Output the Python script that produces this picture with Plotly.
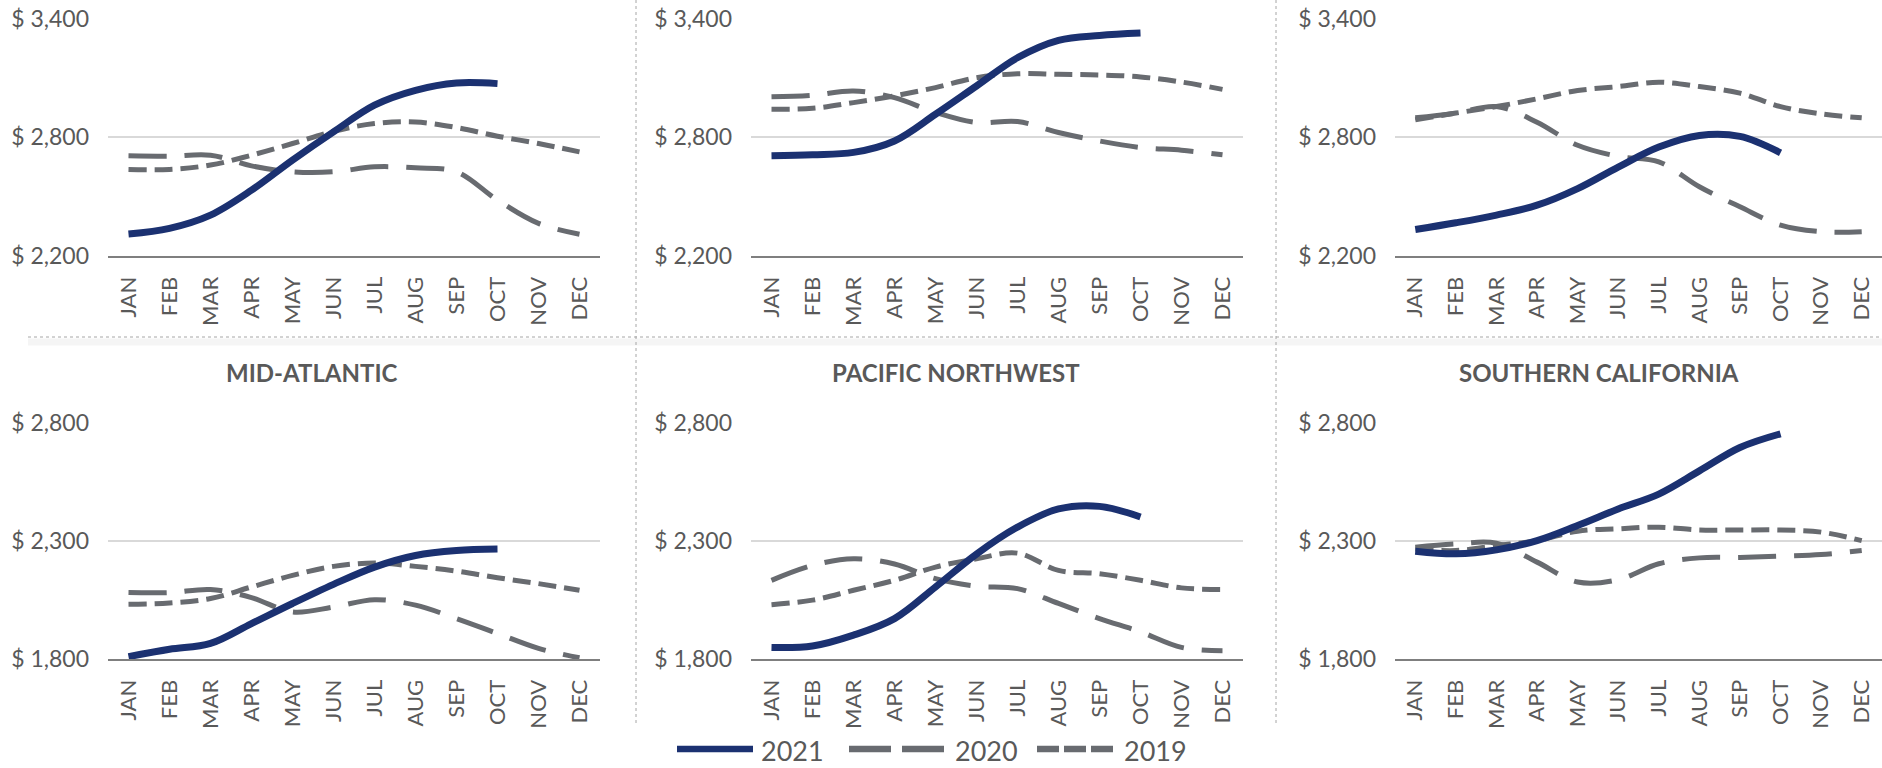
import plotly.graph_objects as go
from plotly.subplots import make_subplots

# month labels
months = ["JAN", "FEB", "MAR", "APR", "MAY", "JUN", "JUL", "AUG", "SEP", "OCT", "NOV", "DEC"]
years = ["2021", "2020", "2019"]

# top row (panel titles are cropped off in the source)
top_left_2021 = [2311, 2340, 2407, 2533, 2685, 2828, 2963, 3038, 3075, 3072]
top_left_2020 = [2707, 2705, 2710, 2656, 2626, 2626, 2651, 2646, 2626, 2483, 2365, 2310]
top_left_2019 = [2638, 2638, 2660, 2710, 2769, 2831, 2870, 2878, 2850, 2806, 2769, 2727]

top_mid_2021 = [2707, 2712, 2724, 2782, 2917, 3060, 3203, 3291, 3316, 3328]
top_mid_2020 = [3005, 3013, 3035, 3001, 2926, 2875, 2880, 2825, 2782, 2749, 2735, 2712]
top_mid_2019 = [2942, 2947, 2976, 3010, 3052, 3102, 3122, 3119, 3116, 3106, 3080, 3043]

top_right_2021 = [2334, 2368, 2407, 2457, 2541, 2650, 2751, 2810, 2805, 2722]
top_right_2020 = [2899, 2923, 2956, 2877, 2760, 2704, 2676, 2550, 2449, 2356, 2323, 2323]
top_right_2019 = [2889, 2923, 2956, 2995, 3037, 3057, 3079, 3057, 3024, 2956, 2919, 2899]

# bottom row
mid_atlantic_2021 = [1810, 1841, 1866, 1950, 2035, 2116, 2189, 2238, 2259, 2265]
mid_atlantic_2020 = [2081, 2081, 2094, 2060, 1999, 2020, 2051, 2028, 1971, 1908, 1845, 1805]
mid_atlantic_2019 = [2032, 2037, 2056, 2105, 2154, 2192, 2206, 2192, 2172, 2144, 2119, 2091]

pac_nw_2021 = [1849, 1855, 1901, 1971, 2105, 2244, 2358, 2435, 2446, 2401]
pac_nw_2020 = [2133, 2196, 2224, 2202, 2140, 2108, 2098, 2035, 1971, 1915, 1849, 1835]
pac_nw_2019 = [2030, 2049, 2091, 2133, 2189, 2224, 2248, 2175, 2161, 2133, 2101, 2094]

so_cal_2021 = [2256, 2245, 2262, 2301, 2365, 2435, 2498, 2596, 2695, 2753]
so_cal_2020 = [2273, 2287, 2290, 2210, 2126, 2136, 2203, 2228, 2230, 2235, 2242, 2259]
so_cal_2019 = [2266, 2259, 2280, 2301, 2341, 2351, 2358, 2346, 2346, 2346, 2337, 2301]

panel_titles = ["", "", "", "MID-ATLANTIC", "PACIFIC NORTHWEST", "SOUTHERN CALIFORNIA"]

panels = [
    (top_left_2021, top_left_2020, top_left_2019),
    (top_mid_2021, top_mid_2020, top_mid_2019),
    (top_right_2021, top_right_2020, top_right_2019),
    (mid_atlantic_2021, mid_atlantic_2020, mid_atlantic_2019),
    (pac_nw_2021, pac_nw_2020, pac_nw_2019),
    (so_cal_2021, so_cal_2020, so_cal_2019),
]

W, H = 1882, 768
NAVY = "#1B3171"
GRAY = "#686B70"
TEXT = "#595959"
FONT = "Lato, Carlito, Calibri, sans-serif"

styles = {
    "2021": dict(color=NAVY, width=7, dash="solid"),
    "2020": dict(color=GRAY, width=5, dash="38px,18px"),
    "2019": dict(color=GRAY, width=5, dash="18px,8px"),
}

fig = make_subplots(rows=2, cols=3)

for i, (s21, s20, s19) in enumerate(panels):
    row, col = i // 3 + 1, i % 3 + 1
    # draw 2019 first so 2021 sits on top
    for yr, vals in (("2019", s19), ("2020", s20), ("2021", s21)):
        fig.add_trace(go.Scatter(x=months[:len(vals)], y=vals, name=yr, showlegend=False,
                                 mode="lines", line=dict(shape="spline", **styles[yr])),
                      row=row, col=col)

# pixel layout of the plot areas
col_px = [(108, 600), (751, 1243), (1395, 1882)]
row_px = [(18, 256), (422, 659)]

for i in range(6):
    r, c = i // 3, i % 3
    x0, x1 = col_px[c]
    ytop, ybot = row_px[r]
    sfx = "" if i == 0 else str(i + 1)
    fig.layout["xaxis" + sfx].update(
        domain=[x0 / W, x1 / W], range=[-0.5, 11.5], tickangle=-90, automargin=False,
        showgrid=False, showline=True, linecolor="#7F7F7F", linewidth=2,
        ticks="", ticklabelstandoff=10, tickfont=dict(size=22, color=TEXT, family=FONT),
    )
    if r == 0:
        yr, dt = [2200, 3404], 600
    else:
        yr, dt = [1800, 2803], 500
    fig.layout["yaxis" + sfx].update(
        domain=[1 - ybot / H, 1 - ytop / H], range=yr, tick0=yr[0], dtick=dt, automargin=False,
        showgrid=True, gridcolor="#D9D9D9", gridwidth=1.5, zeroline=False,
        tickprefix="$ ", tickformat=",", ticks="", ticklabelstandoff=18,
        tickfont=dict(size=23, color=TEXT, family=FONT),
    )

# panel titles for the bottom row
title_x = [312, 956, 1599]
for k in range(3):
    fig.add_annotation(x=title_x[k] / W, y=1 - 372 / H, xref="paper", yref="paper",
                       text="<b>" + panel_titles[3 + k] + "</b>", showarrow=False,
                       font=dict(size=24, color=TEXT, family=FONT), xanchor="center", yanchor="middle")

# dotted separators
sep = dict(color="#A6A6A6", width=1, dash="dot")
fig.add_shape(type="line", xref="paper", yref="paper", x0=28 / W, x1=1, y0=1 - 337 / H, y1=1 - 337 / H, line=sep)
fig.add_shape(type="line", xref="paper", yref="paper", x0=28 / W, x1=1, y0=1 - 342 / H, y1=1 - 342 / H,
              line=dict(color="rgba(0,0,0,0.04)", width=7))
for xv in (636, 1276):
    fig.add_shape(type="line", xref="paper", yref="paper", x0=xv / W, x1=xv / W, y0=1 - 723 / H, y1=1, line=sep)

# legend drawn by hand so the sample lines are as long as in the original
leg_line = {"2021": (677, 753), "2020": (849, 944), "2019": (1037, 1114)}
leg_dash = {"2021": "solid", "2020": "42px,11px", "2019": "22px,5px"}
leg_text = {"2021": 759, "2020": 953, "2019": 1122}
for yr in years:
    a, b = leg_line[yr]
    fig.add_shape(type="line", xref="paper", yref="paper", x0=a / W, x1=b / W,
                  y0=1 - 749 / H, y1=1 - 749 / H,
                  line=dict(color=styles[yr]["color"], width=6.5, dash=leg_dash[yr]))
    fig.add_annotation(x=leg_text[yr] / W, y=1 - 750 / H, xref="paper", yref="paper", text=yr,
                       showarrow=False, xanchor="left", yanchor="middle",
                       font=dict(size=27, color=TEXT, family=FONT))

fig.update_layout(
    width=W, height=H,
    margin=dict(l=0, r=0, t=0, b=0, autoexpand=False),
    paper_bgcolor="white", plot_bgcolor="white",
    font=dict(family=FONT, color=TEXT),
    showlegend=False,
)

fig.write_html("out.html", config={"displayModeBar": False},
               post_script="document.body.style.margin='0';document.body.style.overflow='hidden';")
